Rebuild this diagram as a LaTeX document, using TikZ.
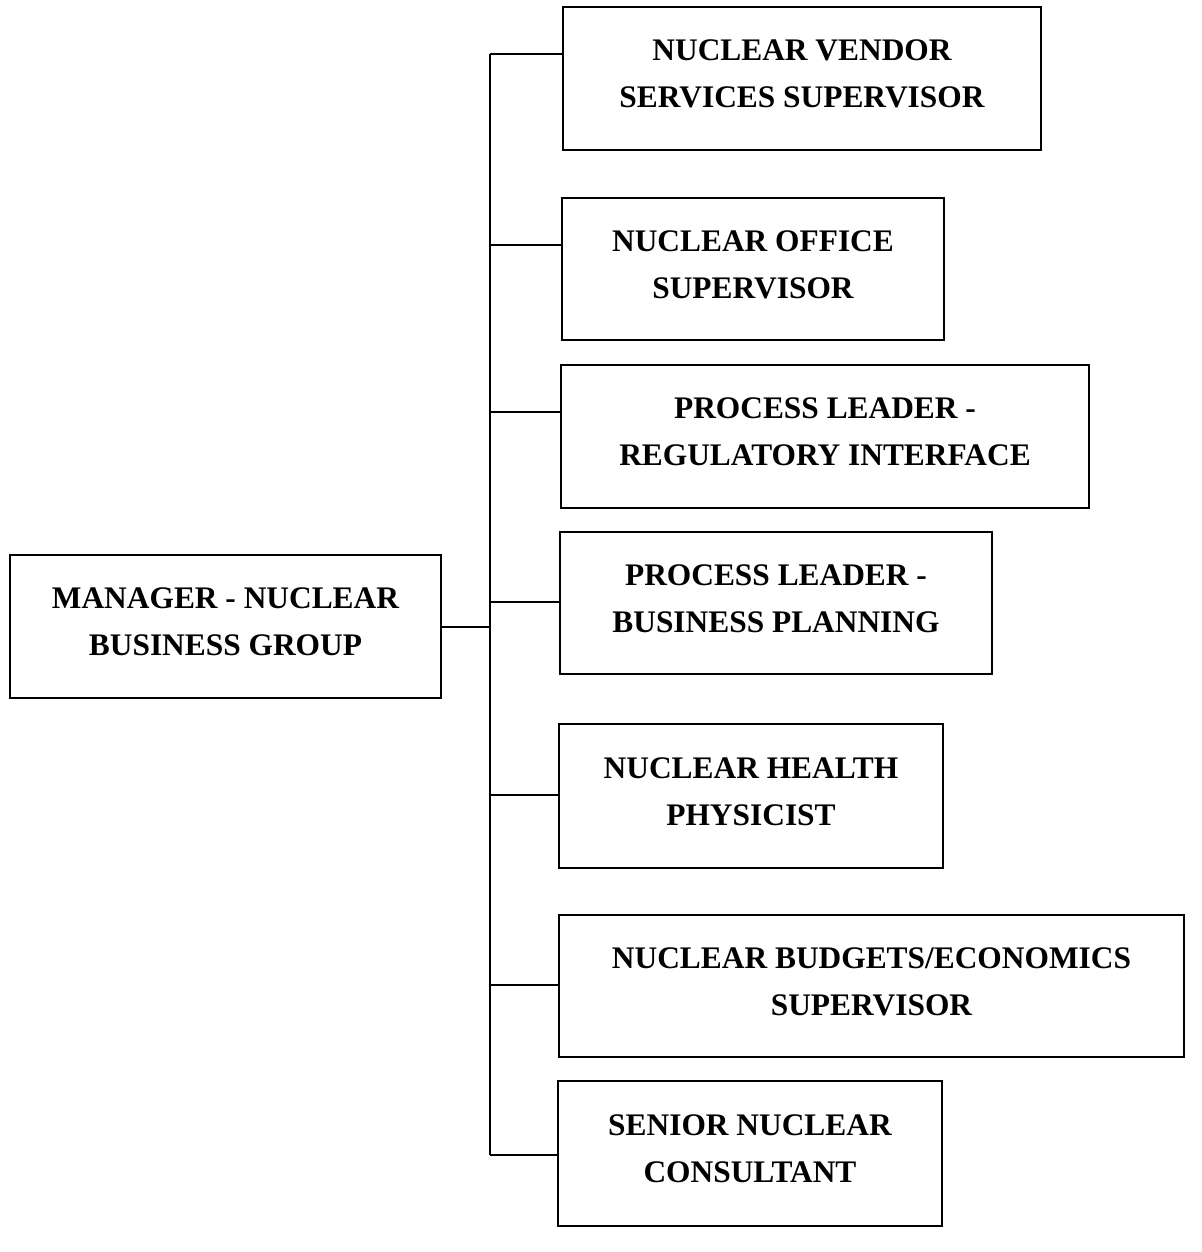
\documentclass[tikz,border=0pt]{standalone}
\usepackage{fontspec}
\setmainfont{Liberation Serif}
\begin{document}
\begin{tikzpicture}[x=0.5pt,y=-0.5pt,
  post/.style={draw=black, line width=1pt, inner sep=0pt, align=center,
    text depth=4.5pt,
    font=\bfseries\fontsize{15.7}{23.5}\selectfont},
  link/.style={draw=black, line width=1pt}]
\useasboundingbox[fill=white] (0,0) rectangle (1202,1252);

% positions
\node[post, minimum width=431*0.5pt, minimum height=143*0.5pt] (mgr) at (225.5,626.5) {MANAGER - NUCLEAR\\BUSINESS GROUP};
\node[post, minimum width=478*0.5pt, minimum height=143*0.5pt] (n1) at (802,78.5) {NUCLEAR VENDOR\\SERVICES SUPERVISOR};
\node[post, minimum width=382*0.5pt, minimum height=142*0.5pt] (n2) at (753,269) {NUCLEAR OFFICE\\SUPERVISOR};
\node[post, minimum width=528*0.5pt, minimum height=143*0.5pt] (n3) at (825,436.5) {PROCESS LEADER -\\REGULATORY INTERFACE};
\node[post, minimum width=432*0.5pt, minimum height=142*0.5pt] (n4) at (776,603) {PROCESS LEADER -\\BUSINESS PLANNING};
\node[post, minimum width=384*0.5pt, minimum height=144*0.5pt] (n5) at (751,796) {NUCLEAR HEALTH\\PHYSICIST};
\node[post, minimum width=625*0.5pt, minimum height=142*0.5pt] (n6) at (871.5,986) {NUCLEAR BUDGETS/ECONOMICS\\SUPERVISOR};
\node[post, minimum width=384*0.5pt, minimum height=145*0.5pt] (n7) at (750,1153.5) {SENIOR NUCLEAR\\CONSULTANT};

% vertical bus
\coordinate (bustop) at (490,54);
\coordinate (busbot) at (490,1155);
\draw[link] (bustop) -- (busbot);

% manager to bus
\draw[link] (mgr.east) -- (bustop |- mgr.east);

% branches to each post
\draw[link] (bustop) -- (n1.west |- bustop);
\coordinate (b2) at (490,245);
\draw[link] (b2) -- (n2.west |- b2);
\coordinate (b3) at (490,412);
\draw[link] (b3) -- (n3.west |- b3);
\coordinate (b4) at (490,602);
\draw[link] (b4) -- (n4.west |- b4);
\coordinate (b5) at (490,795);
\draw[link] (b5) -- (n5.west |- b5);
\coordinate (b6) at (490,985);
\draw[link] (b6) -- (n6.west |- b6);
\draw[link] (busbot) -- (n7.west |- busbot);
\end{tikzpicture}
\end{document}
